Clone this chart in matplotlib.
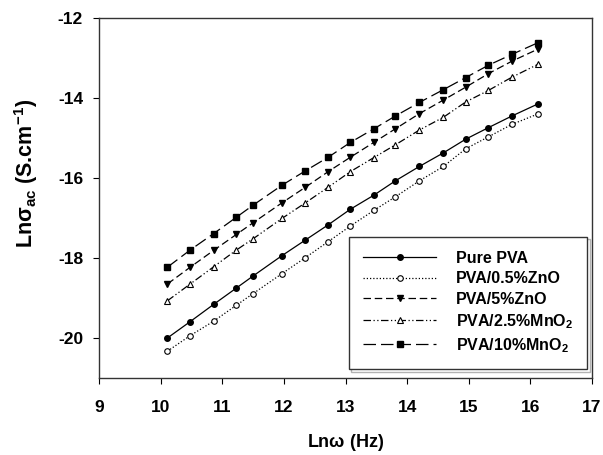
import matplotlib
matplotlib.use("Agg")
import matplotlib.pyplot as plt

plt.rcParams['font.family'] = ['Liberation Sans', 'DejaVu Sans']
plt.rcParams['font.weight'] = 'bold'
plt.rcParams['axes.unicode_minus'] = False
plt.rcParams['mathtext.fontset'] = 'custom'
plt.rcParams['mathtext.rm'] = 'Liberation Sans:bold'
plt.rcParams['mathtext.bf'] = 'Liberation Sans:bold'
plt.rcParams['mathtext.it'] = 'Liberation Sans:bold'

ln_omega = [10.11, 10.48, 10.86, 11.23, 11.50, 11.97, 12.35, 12.72, 13.08,
            13.46, 13.81, 14.20, 14.59, 14.95, 15.32, 15.70, 16.12]

pure_pva = [-20.00, -19.59, -19.16, -18.75, -18.45, -17.94, -17.55, -17.17, -16.78,
            -16.43, -16.07, -15.71, -15.37, -15.03, -14.74, -14.45, -14.15]
pva_05zno = [-20.33, -19.94, -19.58, -19.18, -18.89, -18.39, -17.99, -17.59, -17.20,
             -16.81, -16.47, -16.07, -15.71, -15.27, -14.97, -14.66, -14.40]
pva_5zno = [-18.65, -18.23, -17.81, -17.41, -17.12, -16.62, -16.23, -15.84, -15.48,
            -15.11, -14.77, -14.39, -14.05, -13.73, -13.39, -13.08, -12.78]
pva_25mno2 = [-19.07, -18.65, -18.22, -17.80, -17.52, -17.01, -16.62, -16.23, -15.84,
              -15.49, -15.17, -14.80, -14.48, -14.10, -13.81, -13.48, -13.16]
pva_10mno2 = [-18.23, -17.80, -17.39, -16.98, -16.68, -16.18, -15.82, -15.48, -15.11,
              -14.77, -14.45, -14.11, -13.79, -13.49, -13.18, -12.91, -12.62]

labels = ['Pure PVA', 'PVA/0.5%ZnO', 'PVA/5%ZnO', r'PVA/2.5%MnO$_2$', r'PVA/10%MnO$_2$']

x_ticks = [9, 10, 11, 12, 13, 14, 15, 16, 17]
y_ticks = [-20, -18, -16, -14, -12]

fig = plt.figure(figsize=(6.03, 4.55), dpi=100)
ax = fig.add_axes([99/603, 77/455, 493/603, 360/455])

lw = 0.9
ax.plot(ln_omega, pure_pva, color='black', lw=lw, ls='-', marker='o', ms=4,
        mfc='black', mec='black', label=labels[0])
ax.plot(ln_omega, pva_05zno, color='black', lw=lw, ls=(0, (1, 1.6)), marker='o', ms=4,
        mfc='white', mec='black', mew=0.8, label=labels[1])
ax.plot(ln_omega, pva_5zno, color='black', lw=lw, ls=(0, (6, 3)), marker='v', ms=5,
        mfc='black', mec='black', label=labels[2])
ax.plot(ln_omega, pva_25mno2, color='black', lw=lw, ls=(0, (6, 2, 1, 2, 1, 2)), marker='^', ms=5,
        mfc='white', mec='black', mew=0.8, label=labels[3])
ax.plot(ln_omega, pva_10mno2, color='black', lw=lw, ls=(0, (10, 4)), marker='s', ms=4.2,
        mfc='black', mec='black', label=labels[4])

ax.set_xlim(9, 17)
ax.set_ylim(-21, -12)
ax.set_xticks(x_ticks)
ax.set_yticks(y_ticks)
ax.tick_params(direction='out', length=4.5, width=0.8, labelsize=12.5, colors='black')
ax.tick_params(axis='x', pad=11)
ax.tick_params(axis='y', pad=7)
for s in ax.spines.values():
    s.set_color('#333333')
    s.set_linewidth(1.0)

ax.set_xlabel(r'Ln$\mathregular{\omega}$ (Hz)', fontsize=13, fontweight='bold')
ax.xaxis.set_label_coords(0.5, -54/360)
ax.set_ylabel(r'Ln$\mathregular{\sigma_{ac}}$ (S.cm$^{\mathregular{-1}}$)', fontsize=15.5,
              fontweight='bold')
ax.yaxis.set_label_coords(-59/493, 0.567)

leg = ax.legend(loc='lower right', bbox_to_anchor=(1.0, 0.012), numpoints=1,
                handlelength=4.6, prop={'weight': 'bold', 'size': 11.5},
                frameon=True, fancybox=False, borderpad=0.9, labelspacing=0.33,
                handletextpad=1.2, borderaxespad=0.3,
                shadow={'facecolor': 'none', 'edgecolor': '#666666', 'linewidth': 1.0})
leg.get_frame().set_edgecolor('#333333')
leg.get_frame().set_linewidth(1.0)
leg.get_frame().set_alpha(1)

fig.savefig('out.png', dpi=100)
